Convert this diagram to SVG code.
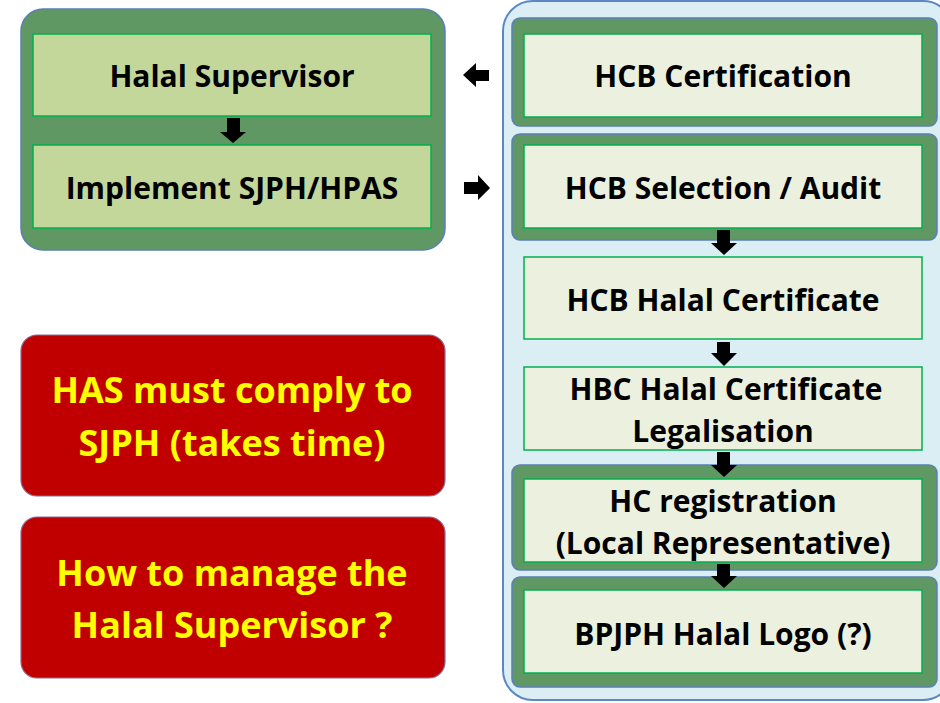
<svg xmlns="http://www.w3.org/2000/svg" width="940" height="703" viewBox="0 0 940 703">
<style>
.t{font-family:"Open Sans","Noto Sans","Liberation Sans",sans-serif;font-weight:bold;font-size:30px;fill:#000;text-anchor:middle}
.y{font-family:"Open Sans","Noto Sans","Liberation Sans",sans-serif;font-weight:bold;font-size:36px;fill:#ffff00;text-anchor:middle}
.frame{fill:#5f9862;stroke:#5b7fb8;stroke-width:1.5}
.inL{fill:#c4d79b;stroke:#00b050;stroke-width:1.5}
.inR{fill:#ebf1de;stroke:#00b050;stroke-width:1.5}
.red{fill:#c00000;stroke:#8a6a9a;stroke-width:1.2}
.arr{fill:#000}
</style>
<rect width="940" height="703" fill="#ffffff"/>
<g id="left-group">
<rect class="frame" x="21" y="9" width="424" height="241" rx="22"/>
</g>
<g id="halal-supervisor">
<rect class="inL" x="33" y="34" width="398" height="82"/>
<text class="t" x="232" y="87">Halal Supervisor</text>
</g>
<g id="implement">
<rect class="inL" x="33" y="145" width="398" height="83"/>
<text class="t" x="232" y="199">Implement SJPH/HPAS</text>
</g>
<g id="right-container">
<rect x="503" y="1" width="450" height="699" rx="30" fill="#dbeef3" stroke="#5b87c5" stroke-width="2"/>
</g>
<g id="hcb-certification">
<rect class="frame" x="512" y="18" width="425" height="108" rx="8"/>
<rect class="inR" x="524" y="34" width="398" height="83"/>
<text class="t" x="723" y="87">HCB Certification</text>
</g>
<g id="hcb-selection">
<rect class="frame" x="512" y="134" width="425" height="106" rx="8"/>
<rect class="inR" x="524" y="145" width="398" height="83"/>
<text class="t" x="723" y="199">HCB Selection / Audit</text>
</g>
<g id="hcb-halal-certificate">
<rect class="inR" x="524" y="257" width="398" height="82"/>
<text class="t" x="723" y="311">HCB Halal Certificate</text>
</g>
<g id="hbc-legalisation">
<rect class="inR" x="524" y="367" width="398" height="83"/>
<text class="t" x="726" y="400">HBC Halal Certificate</text>
<text class="t" x="723" y="442">Legalisation</text>
</g>
<g id="hc-registration">
<rect class="frame" x="512" y="465" width="425" height="105" rx="8"/>
<rect class="inR" x="524" y="479" width="398" height="83"/>
<text class="t" x="723" y="512">HC registration</text>
<text class="t" x="723" y="554">(Local Representative)</text>
</g>
<g id="bpjph-logo">
<rect class="frame" x="512" y="577" width="425" height="110" rx="8"/>
<rect class="inR" x="524" y="590" width="398" height="83"/>
<text class="t" x="723" y="645">BPJPH Halal Logo (?)</text>
</g>
<g id="has-comply">
<rect class="red" x="21" y="335" width="424" height="161" rx="16"/>
<text class="y" x="232" y="403">HAS must comply to</text>
<text class="y" x="232" y="456">SJPH (takes time)</text>
</g>
<g id="manage-supervisor">
<rect class="red" x="21" y="517" width="424" height="161" rx="16"/>
<text class="y" x="232" y="586">How to manage the</text>
<text class="y" x="232" y="638">Halal Supervisor ?</text>
</g>
<g id="connectors">
<polygon class="arr" points="227,118 240,118 240,132 246,132 233,143 220,132 227,132"/>
<polygon class="arr" points="717,230 730,230 730,243 737,243 724,255 711,243 717,243"/>
<polygon class="arr" points="717,342 730,342 730,353 737,353 724,366 711,353 717,353"/>
<polygon class="arr" points="717,452 730,452 730,465 737,465 724,477 711,465 717,465"/>
<polygon class="arr" points="717,564 730,564 730,576 737,576 724,588 711,576 717,576"/>
<polygon class="arr" points="489,70 476,70 476,63 463,75 476,87 476,81 489,81"/>
<polygon class="arr" points="464,182 478,182 478,175 490,188 478,200 478,194 464,194"/>
</g>
</svg>
